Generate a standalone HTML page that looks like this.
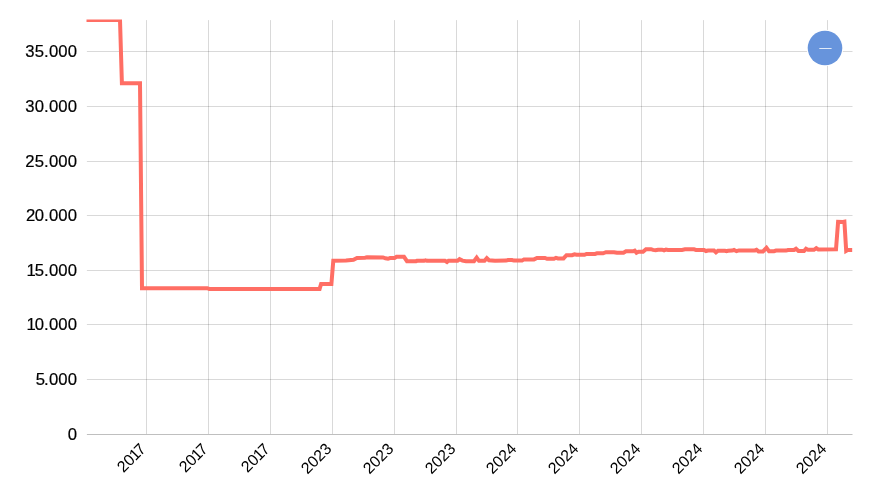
<!DOCTYPE html>
<html lang="en">
<head>
<meta charset="utf-8">
<title>Chart</title>
<style>
  html, body { margin: 0; padding: 0; background: #ffffff; }
  body { width: 873px; height: 500px; overflow: hidden; }
  svg { display: block; }
  text { font-family: "Liberation Sans", sans-serif; fill: #000000; }
</style>
</head>
<body>
<svg width="873" height="500" viewBox="0 0 873 500">
  <rect x="0" y="0" width="873" height="500" fill="#ffffff"/>
  <defs>
    <clipPath id="plot"><rect x="86.5" y="19.5" width="766.5" height="415.5"/></clipPath>
  </defs>
  <g stroke="#000" stroke-opacity="0.15" stroke-width="1" fill="none">
    <line x1="86.9" y1="51.5" x2="852.5" y2="51.5"/>
    <line x1="86.9" y1="106.5" x2="852.5" y2="106.5"/>
    <line x1="86.9" y1="161.5" x2="852.5" y2="161.5"/>
    <line x1="86.9" y1="215.5" x2="852.5" y2="215.5"/>
    <line x1="86.9" y1="270.5" x2="852.5" y2="270.5"/>
    <line x1="86.9" y1="324.5" x2="852.5" y2="324.5"/>
    <line x1="86.9" y1="379.5" x2="852.5" y2="379.5"/>
    <line x1="86.9" y1="434.5" x2="852.5" y2="434.5" stroke-opacity="0.25"/>
    <line x1="146.5" y1="20.1" x2="146.5" y2="434"/>
    <line x1="208.5" y1="20.1" x2="208.5" y2="434"/>
    <line x1="270.5" y1="20.1" x2="270.5" y2="434"/>
    <line x1="332.5" y1="20.1" x2="332.5" y2="434"/>
    <line x1="394.5" y1="20.1" x2="394.5" y2="434"/>
    <line x1="456.5" y1="20.1" x2="456.5" y2="434"/>
    <line x1="517.5" y1="20.1" x2="517.5" y2="434"/>
    <line x1="579.5" y1="20.1" x2="579.5" y2="434"/>
    <line x1="641.5" y1="20.1" x2="641.5" y2="434"/>
    <line x1="703.5" y1="20.1" x2="703.5" y2="434"/>
    <line x1="765.5" y1="20.1" x2="765.5" y2="434"/>
    <line x1="827.5" y1="20.1" x2="827.5" y2="434"/>
  </g>
  <g text-anchor="end" font-size="16.7" letter-spacing="0.15" stroke="#000000" stroke-width="0.2">
    <text x="77.2" y="57.4">35.000</text>
    <text x="77.2" y="112.4">30.000</text>
    <text x="77.2" y="167.4">25.000</text>
    <text x="77.2" y="221.4">2<tspan dx="-0.8">0.000</tspan></text>
    <text x="77.2" y="276.4">1<tspan dx="-1.2">5.000</tspan></text>
    <text x="77.2" y="330.4">1<tspan dx="-1.2">0.000</tspan></text>
    <text x="77.2" y="385.4">5<tspan dx="-1">.000</tspan></text>
    <text x="77.2" y="440.4">0</text>
  </g>
  <g text-anchor="end">
    <text transform="translate(142.9,446) rotate(-45)" x="0" y="5.6" font-size="15.9">20<tspan dx="-0.9">1</tspan><tspan dx="-1.6">7</tspan></text>
    <text transform="translate(204.9,446) rotate(-45)" x="0" y="5.6" font-size="15.9">20<tspan dx="-0.9">1</tspan><tspan dx="-1.6">7</tspan></text>
    <text transform="translate(266.9,446) rotate(-45)" x="0" y="5.6" font-size="15.9">20<tspan dx="-0.9">1</tspan><tspan dx="-1.6">7</tspan></text>
    <text transform="translate(328.5,445.7) rotate(-45)" x="0" y="5.6" font-size="15.9">2023</text>
    <text transform="translate(390.5,445.7) rotate(-45)" x="0" y="5.6" font-size="15.9">2023</text>
    <text transform="translate(452.5,445.7) rotate(-45)" x="0" y="5.6" font-size="15.9">2023</text>
    <text transform="translate(513.5,445.7) rotate(-45)" x="0" y="5.6" font-size="15.9">2024</text>
    <text transform="translate(575.5,445.7) rotate(-45)" x="0" y="5.6" font-size="15.9">2024</text>
    <text transform="translate(637.5,445.7) rotate(-45)" x="0" y="5.6" font-size="15.9">2024</text>
    <text transform="translate(699.5,445.7) rotate(-45)" x="0" y="5.6" font-size="15.9">2024</text>
    <text transform="translate(761.5,445.7) rotate(-45)" x="0" y="5.6" font-size="15.9">2024</text>
    <text transform="translate(823.5,445.7) rotate(-45)" x="0" y="5.6" font-size="15.9">2024</text>
  </g>
  <g clip-path="url(#plot)"><path d="M86,20 L120,20 L121.9,83.3 L140,83.3 L142,288.2 L207.2,288.2 L209.2,288.9 L319.6,288.9 L321.1,284 L331.4,284 L333.3,260.7 L346,260.4 L353.5,259.7 L357,258 L365,257.7 L367,257.3 L383,257.4 L385.5,258.3 L388,258.8 L390,258.1 L394.5,258.1 L396.5,256.8 L404,256.8 L407,261.2 L416,261.2 L417,260.8 L424,260.8 L425.5,260.3 L427,260.8 L445,260.8 L447,262 L448.5,260.8 L457.5,260.8 L459.5,259.2 L462.5,260.6 L466,261.3 L474,261.3 L476.7,257.6 L479,260.8 L484.5,260.8 L486.8,258.2 L489,260.3 L495,260.8 L506,260.6 L508,260 L512,260 L514,260.6 L522,260.6 L524,259.4 L534,259.4 L537,258 L545,258 L547,258.8 L554,258.8 L556,257.8 L558,258.4 L563.5,258.4 L566.5,255.2 L572,255.2 L574.5,254.3 L576.5,254.8 L584.5,254.8 L586.5,253.9 L595,253.9 L597,253.3 L603,253.3 L606,252.2 L614,252.2 L617,252.8 L623.5,252.8 L626,251.3 L633,251.3 L634.7,250.7 L636.5,252.8 L638.5,251.8 L643,251.8 L646,249.2 L651,249.2 L653,249.9 L655.5,250.3 L658,249.7 L662,249.7 L664,250.3 L666,249.6 L668,249.9 L682,249.9 L685,249.3 L694,249.3 L696,249.9 L704,249.9 L706,251 L708,250.5 L714,250.5 L716,252.4 L718,250.8 L725,250.8 L726.5,251.2 L728,250.8 L732,250.6 L734,250 L736.5,251.2 L739,250.4 L755,250.4 L756.5,249.8 L758.5,251.4 L763,251.4 L766.5,247.8 L769,251.2 L774,251.2 L776,250.6 L786,250.6 L788,250 L794,250 L796,248.7 L798.5,251 L804,251 L806,248.8 L808,249.8 L814,249.8 L816.3,248.2 L818.3,249.4 L836,249.3 L838.1,221.8 L843,221.9 L844.4,221.6 L846.2,250.9 L847.6,250.1 L852.2,250.1" fill="none" stroke="#ff6e64" stroke-width="4" stroke-linejoin="miter"/></g>
  <g>
    <circle cx="825" cy="48" r="18.2" fill="#ffffff"/>
    <circle cx="825" cy="48" r="17.3" fill="#6794dc"/>
    <line x1="819.3" y1="48.5" x2="831.6" y2="48.5" stroke="#ffffff" stroke-width="1" stroke-opacity="0.8"/>
  </g>
</svg>
</body>
</html>
